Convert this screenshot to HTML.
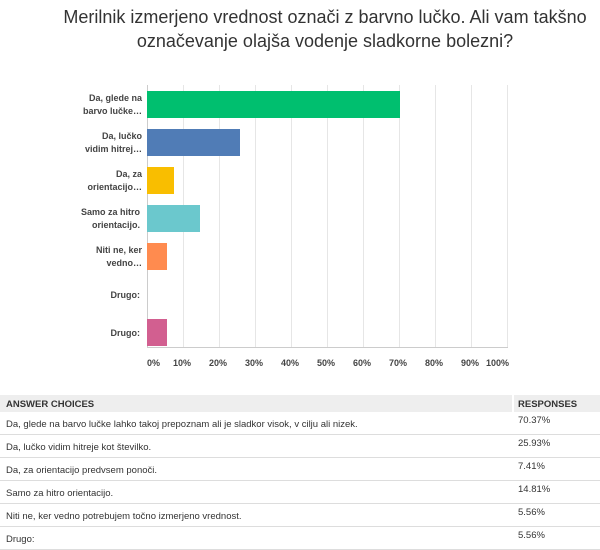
<!DOCTYPE html>
<html><head><style>
body{margin:0;width:600px;height:544px;background:#fff;font-family:"Liberation Sans",sans-serif;position:relative;overflow:hidden}
.t{position:absolute;left:35px;width:580px;text-align:center;font-size:18px;color:#333;line-height:24px;top:5px}
.lbl{position:absolute;right:458px;width:110px;text-align:right;font-size:9px;color:#444;font-weight:bold;line-height:13px}
.g{position:absolute;top:85px;height:263px;width:1px;background:#e6e6e6}
.bar{position:absolute;left:147px;height:27px}
.tick{position:absolute;top:358px;font-size:9px;color:#444;font-weight:bold}
.row{position:absolute;left:0;width:600px;height:22px;border-bottom:1px solid #ddd;font-size:9.5px;color:#333}
.row span{position:absolute;left:6px;top:7px}
.row b{position:absolute;left:518px;top:3px;font-weight:normal}
</style></head><body>
<div class="t">Merilnik izmerjeno vrednost označi z barvno lučko. Ali vam takšno<br>označevanje olajša vodenje sladkorne bolezni?</div>
<div class="g" style="left:147px;background:#ccc"></div>
<div class="g" style="left:183px"></div><div class="g" style="left:219px"></div><div class="g" style="left:255px"></div><div class="g" style="left:291px"></div><div class="g" style="left:327px"></div><div class="g" style="left:363px"></div><div class="g" style="left:399px"></div><div class="g" style="left:435px"></div><div class="g" style="left:471px"></div><div class="g" style="left:507px"></div>
<div style="position:absolute;left:147px;top:347px;width:361px;height:1px;background:#ccc"></div>
<div class="bar" style="top:91px;width:253px;background:#00bf6f"></div>
<div class="bar" style="top:129px;width:93px;background:#507cb6"></div>
<div class="bar" style="top:167px;width:27px;background:#f9be00"></div>
<div class="bar" style="top:205px;width:53px;background:#6bc8cd"></div>
<div class="bar" style="top:243px;width:20px;background:#ff8b4f"></div>
<div class="bar" style="top:319px;width:20px;background:#d25f90"></div>
<div class="lbl" style="top:92px">Da, glede na<br>barvo lučke…</div>
<div class="lbl" style="top:130px">Da, lučko<br>vidim hitrej…</div>
<div class="lbl" style="top:168px">Da, za<br>orientacijo…</div>
<div class="lbl" style="top:206px;right:460px">Samo za hitro<br>orientacijo.</div>
<div class="lbl" style="top:244px">Niti ne, ker<br>vedno…</div>
<div class="lbl" style="top:289px;right:460px">Drugo:</div>
<div class="lbl" style="top:327px;right:460px">Drugo:</div>
<div class="tick" style="left:147px">0%</div><div class="tick" style="left:173px">10%</div><div class="tick" style="left:209px">20%</div><div class="tick" style="left:245px">30%</div><div class="tick" style="left:281px">40%</div><div class="tick" style="left:317px">50%</div><div class="tick" style="left:353px">60%</div><div class="tick" style="left:389px">70%</div><div class="tick" style="left:425px">80%</div><div class="tick" style="left:461px">90%</div><div class="tick" style="left:486px">100%</div>
<div style="position:absolute;left:0;top:395px;width:512px;height:17px;background:#eee"></div>
<div style="position:absolute;left:514px;top:395px;width:86px;height:17px;background:#eee"></div>
<div style="position:absolute;left:6px;top:399px;font-size:9.5px;font-weight:bold;color:#333">ANSWER CHOICES</div>
<div style="position:absolute;left:518px;top:399px;font-size:9.5px;font-weight:bold;color:#333">RESPONSES</div>
<div class="row" style="top:412px"><span>Da, glede na barvo lučke lahko takoj prepoznam ali je sladkor visok, v cilju ali nizek.</span><b>70.37%</b></div>
<div class="row" style="top:435px"><span>Da, lučko vidim hitreje kot številko.</span><b>25.93%</b></div>
<div class="row" style="top:458px"><span>Da, za orientacijo predvsem ponoči.</span><b>7.41%</b></div>
<div class="row" style="top:481px"><span>Samo za hitro orientacijo.</span><b>14.81%</b></div>
<div class="row" style="top:504px"><span>Niti ne, ker vedno potrebujem točno izmerjeno vrednost.</span><b>5.56%</b></div>
<div class="row" style="top:527px"><span>Drugo:</span><b>5.56%</b></div>
</body></html>
